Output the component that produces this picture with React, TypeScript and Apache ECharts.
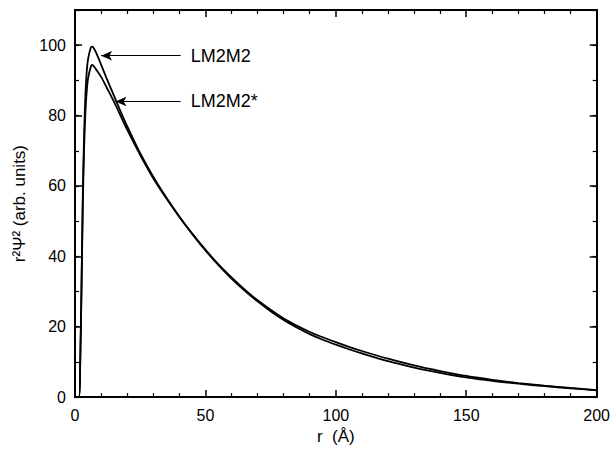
import React, { useEffect, useRef } from "react";
import * as echarts from "echarts";

// r (Å)
const rValues = [0, 1.5, 2, 2.5, 3, 3.5, 4, 4.5, 5, 6, 6.5, 7, 8, 10, 12, 15, 17, 20, 25, 30, 35, 40, 45, 50, 55, 60, 65, 70, 75, 80, 85, 90, 95, 100, 105, 110, 120, 130, 140, 150, 160, 170, 180, 190, 200];
// r^2 Psi^2 for LM2M2
const lm2m2 = [0, 0, 10, 32, 58, 75, 86, 92.5, 96, 99.2, 99.6, 99.4, 98.0, 94.5, 90.8, 85.5, 82, 77, 69.3, 62.6, 56.7, 51.3, 46.3, 41.7, 37.5, 33.7, 30.3, 27.2, 24.4, 21.9, 19.8, 17.9, 16.3, 14.9, 13.6, 12.4, 10.2, 8.4, 6.9, 5.6, 4.6, 3.8, 3.1, 2.5, 1.9];
// r^2 Psi^2 for LM2M2*
const lm2m2Star = [0, 0, 10, 31, 55, 71, 81, 87, 90.5, 93.7, 94.4, 94.2, 93.2, 91, 88.2, 83.8, 80.7, 76, 68.8, 62.2, 56.5, 51.2, 46.4, 41.9, 37.7, 34.0, 30.6, 27.5, 24.8, 22.3, 20.3, 18.5, 17.0, 15.6, 14.3, 13.1, 10.9, 9.0, 7.4, 6.0, 4.9, 4.0, 3.25, 2.6, 2.0];

const xTicks = { min: 0, max: 200, interval: 50 };
const yTicks = { min: 0, max: 110, interval: 20 };

// annotation arrows: [tailX, tipX, y]
const arrowLM2M2 = [40.5, 10, 97];
const arrowLM2M2Star = [40.5, 15.5, 84];
const labels = ["LM2M2", "LM2M2*"];

const FONT = "Liberation Sans, Arial, Helvetica, sans-serif";

export default function App() {
  const ref = useRef<HTMLDivElement>(null);
  useEffect(() => {
    if (!ref.current) return;
    const chart = echarts.init(ref.current, null, { renderer: "svg" });
    const axisLine = { show: true, onZero: false, lineStyle: { color: "#000", width: 2 } };
    const makeMark = (a: number[], text: string) => ({
      silent: true,
      symbol: ["none", "arrow"],
      symbolSize: [7, 11],
      lineStyle: { color: "#000", width: 1, type: "solid" },
      label: {
        show: true,
        position: "start",
        formatter: text,
        color: "#000",
        fontSize: 18,
        fontFamily: FONT,
        distance: 10,
      },
      data: [[{ coord: [a[0], a[2]] }, { coord: [a[1], a[2]] }]],
    });
    const xCommon = {
      type: "value",
      min: xTicks.min,
      max: xTicks.max,
      interval: xTicks.interval,
      axisLine,
      splitLine: { show: false },
      axisTick: { show: true, inside: true, length: 7, lineStyle: { color: "#000", width: 1.5 } },
      minorTick: { show: true, splitNumber: 5, length: 4, lineStyle: { color: "#000", width: 1.2 } },
    };
    const yMajor = {
      type: "value",
      min: yTicks.min,
      max: yTicks.max,
      interval: yTicks.interval,
      axisLine,
      splitLine: { show: false },
      axisTick: { show: true, inside: true, length: 7, lineStyle: { color: "#000", width: 1.5 } },
    };
    const yMinor = {
      type: "value",
      min: yTicks.min,
      max: yTicks.max,
      interval: yTicks.interval / 2,
      axisLine: { show: false, onZero: false },
      splitLine: { show: false },
      axisLabel: { show: false },
      axisTick: { show: true, inside: true, length: 4, lineStyle: { color: "#000", width: 1.2 } },
    };
    chart.setOption({
      animation: false,
      backgroundColor: "#fff",
      grid: { left: 75, right: 15, top: 10, bottom: 50 },
      xAxis: [
        {
          ...xCommon,
          position: "bottom",
          name: "r  (Å)",
          nameLocation: "middle",
          nameGap: 28,
          nameTextStyle: { color: "#000", fontSize: 17, fontFamily: FONT },
          axisLabel: { color: "#000", fontSize: 16, fontFamily: FONT, margin: 10 },
        },
        { ...xCommon, position: "top", axisLabel: { show: false } },
      ],
      yAxis: [
        {
          ...yMajor,
          position: "left",
          name: "r²Ψ² (arb. units)",
          nameLocation: "middle",
          nameGap: 45,
          nameTextStyle: { color: "#000", fontSize: 17, fontFamily: FONT },
          axisLabel: { color: "#000", fontSize: 16, fontFamily: FONT, margin: 9, showMaxLabel: false },
        },
        { ...yMajor, position: "right", axisLabel: { show: false } },
        { ...yMinor, position: "left" },
        { ...yMinor, position: "right" },
      ],
      series: [
        {
          type: "line",
          name: labels[0],
          data: rValues.map((r, i) => [r, lm2m2[i]]),
          showSymbol: false,
          smooth: 0.3,
          lineStyle: { color: "#000", width: 1.8 },
          markLine: makeMark(arrowLM2M2, labels[0]),
        },
        {
          type: "line",
          name: labels[1],
          data: rValues.map((r, i) => [r, lm2m2Star[i]]),
          showSymbol: false,
          smooth: 0.3,
          lineStyle: { color: "#000", width: 1.8 },
          markLine: makeMark(arrowLM2M2Star, labels[1]),
        },
      ],
    });
    return () => chart.dispose();
  }, []);
  return (
    <div
      ref={ref}
      style={{ position: "absolute", left: 0, top: 0, width: 613, height: 450 }}
    />
  );
}
